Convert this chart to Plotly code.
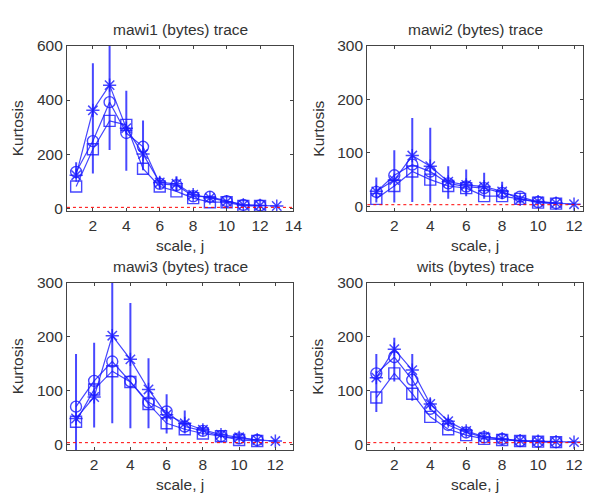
import plotly.graph_objects as go

# ---------------- data ----------------
titles = ["mawi1 (bytes) trace", "mawi2 (bytes) trace", "mawi3 (bytes) trace", "wits (bytes) trace"]

# mawi1
m1_x_star = [1, 2, 3, 4, 5, 6, 7, 8, 9, 10, 11, 12, 13]
m1_star = [122, 362, 455, 296, 200, 95, 90, 50, 38, 24, 12, 10, 8]
m1_star_hi = [170, 536, 700, 434, 324, 116, 118, 65, 48, 30, 16, 14, 11]
m1_star_lo = [110, 128, 215, 138, 140, 72, 62, 36, 28, 18, 8, 6, 5]
m1_x = [1, 2, 3, 4, 5, 6, 7, 8, 9, 10, 11, 12]
m1_circ = [134, 248, 392, 278, 227, 90, 85, 44, 42, 26, 12, 10]
m1_sq = [80, 218, 323, 308, 146, 80, 62, 37, 22, 22, 8, 8]

# mawi2
m2_x_star = [1, 2, 3, 4, 5, 6, 7, 8, 9, 10, 11, 12]
m2_star = [28, 49, 95, 75, 46, 40, 37, 28, 13, 9, 6, 4]
m2_star_hi = [54, 105, 165, 147, 75, 69, 63, 46, 20, 13, 9, 6]
m2_star_lo = [7, 7, 8, 7, 14, 19, 14, 13, 8, 5, 3, 2]
m2_x = [1, 2, 3, 4, 5, 6, 7, 8, 9, 10, 11]
m2_circ = [27, 58, 78, 65, 43, 37, 34, 25, 18, 8, 6]
m2_sq = [14, 38, 65, 50, 38, 34, 19, 19, 14, 7, 5]

# mawi3
m3_x_star = [1, 2, 3, 4, 5, 6, 7, 8, 9, 10, 11, 12]
m3_star = [48, 88, 202, 158, 102, 55, 39, 27, 18, 13, 8, 6]
m3_star_hi = [168, 189, 320, 263, 160, 93, 63, 35, 24, 17, 11, 8]
m3_star_lo = [-20, 31, 39, 30, 30, 20, 20, 18, 12, 9, 5, 4]
m3_x = [1, 2, 3, 4, 5, 6, 7, 8, 9, 10, 11]
m3_circ = [70, 118, 154, 117, 78, 61, 33, 25, 15, 11, 8]
m3_sq = [42, 102, 136, 116, 75, 39, 28, 20, 15, 8, 6]

# wits
w_x_star = [1, 2, 3, 4, 5, 6, 7, 8, 9, 10, 11, 12]
w_star = [124, 177, 138, 75, 43, 25, 14, 10, 7, 6, 5, 4]
w_star_hi = [168, 198, 168, 85, 50, 30, 18, 13, 9, 8, 6, 6]
w_star_lo = [60, 117, 81, 65, 35, 20, 10, 7, 5, 4, 3, 2]
w_x = [1, 2, 3, 4, 5, 6, 7, 8, 9, 10, 11]
w_circ = [132, 162, 120, 66, 36, 22, 13, 10, 6, 5, 4]
w_sq = [87, 132, 94, 51, 28, 17, 10, 8, 6, 5, 4]

gauss_kurtosis = 3

x_ticks_1 = [2, 4, 6, 8, 10, 12, 14]
x_ticks_2 = [2, 4, 6, 8, 10, 12]
y_ticks_1 = [0, 200, 400, 600]
y_ticks_2 = [0, 100, 200, 300]

panels = [
    dict(xs=m1_x_star, star=m1_star, hi=m1_star_hi, lo=m1_star_lo, x=m1_x, circ=m1_circ, sq=m1_sq,
         xr=[0.45, 14], yr=[-11, 600], xt=x_ticks_1, yt=y_ticks_1),
    dict(xs=m2_x_star, star=m2_star, hi=m2_star_hi, lo=m2_star_lo, x=m2_x, circ=m2_circ, sq=m2_sq,
         xr=[0.5, 12.5], yr=[-9, 300], xt=x_ticks_2, yt=y_ticks_2),
    dict(xs=m3_x_star, star=m3_star, hi=m3_star_hi, lo=m3_star_lo, x=m3_x, circ=m3_circ, sq=m3_sq,
         xr=[0.5, 13], yr=[-11, 300], xt=x_ticks_2, yt=y_ticks_2),
    dict(xs=w_x_star, star=w_star, hi=w_star_hi, lo=w_star_lo, x=w_x, circ=w_circ, sq=w_sq,
         xr=[0.5, 12.5], yr=[-11, 300], xt=x_ticks_2, yt=y_ticks_2),
]

# ---------------- layout geometry (pixels) ----------------
W, H = 593, 496
boxes = [(68, 298, 38, 208), (373, 592, 38, 208), (68, 298, 282, 454), (373, 592, 282, 454)]

BLUE = "rgba(25,25,255,0.8)"
BLUE_EB = "rgba(40,40,255,0.85)"
TXT = "#333333"
FONT = "Liberation Sans, Arial, sans-serif"
FS = 15.5

fig = go.Figure()
annotations = []
shapes = []

for i, (p, b) in enumerate(zip(panels, boxes)):
    n = i + 1
    xa = "x" if n == 1 else f"x{n}"
    ya = "y" if n == 1 else f"y{n}"
    plus = [h - s for h, s in zip(p["hi"], p["star"])]
    minus = [s - l for s, l in zip(p["star"], p["lo"])]
    fig.add_trace(go.Scatter(
        x=p["xs"], y=p["star"], mode="lines+markers", xaxis=xa, yaxis=ya,
        line=dict(color=BLUE, width=1.2),
        marker=dict(symbol="asterisk-open", size=11, color=BLUE, line=dict(color=BLUE, width=1.5)),
        error_y=dict(type="data", symmetric=False, array=plus, arrayminus=minus,
                     width=0, thickness=2, color=BLUE_EB),
        showlegend=False, cliponaxis=True))
    fig.add_trace(go.Scatter(
        x=p["x"], y=p["circ"], mode="lines+markers", xaxis=xa, yaxis=ya,
        line=dict(color=BLUE, width=1.2),
        marker=dict(symbol="circle-open", size=11, color=BLUE, line=dict(color=BLUE, width=1.4)),
        showlegend=False))
    fig.add_trace(go.Scatter(
        x=p["x"], y=p["sq"], mode="lines+markers", xaxis=xa, yaxis=ya,
        line=dict(color=BLUE, width=1.2),
        marker=dict(symbol="square-open", size=11, color=BLUE, line=dict(color=BLUE, width=1.4)),
        showlegend=False))

    x0, x1, y0, y1 = b
    dom_x = [x0 / W, x1 / W]
    dom_y = [1 - y1 / H, 1 - y0 / H]
    axcommon = dict(showgrid=False, zeroline=False, showline=True, linecolor="#444444", linewidth=1.2,
                    mirror="ticks", ticks="inside", ticklen=3, tickcolor="#444444",
                    tickfont=dict(family=FONT, size=FS, color=TXT))
    fig.layout[("xaxis" if n == 1 else f"xaxis{n}")] = dict(
        domain=dom_x, range=p["xr"], tickvals=p["xt"], anchor=ya, **axcommon)
    fig.layout[("yaxis" if n == 1 else f"yaxis{n}")] = dict(
        domain=dom_y, range=p["yr"], tickvals=p["yt"], anchor=xa, **axcommon)

    shapes.append(dict(type="line", xref=f"{xa} domain", yref=ya, x0=0, x1=1,
                       y0=gauss_kurtosis, y1=gauss_kurtosis,
                       line=dict(color="red", width=1, dash="dot")))

    cx = (x0 + x1) / 2 / W
    annotations.append(dict(text=titles[i], x=cx, y=1 - (y0 - 17) / H, xref="paper", yref="paper",
                            showarrow=False, xanchor="center", yanchor="middle",
                            font=dict(family=FONT, size=FS, color=TXT)))
    annotations.append(dict(text="scale, j", x=cx, y=1 - (y1 + 35) / H, xref="paper", yref="paper",
                            showarrow=False, xanchor="center", yanchor="middle",
                            font=dict(family=FONT, size=FS, color=TXT)))
    annotations.append(dict(text="Kurtosis", x=(x0 - 50) / W, y=1 - ((y0 + y1) / 2) / H,
                            xref="paper", yref="paper", textangle=-90,
                            showarrow=False, xanchor="center", yanchor="middle",
                            font=dict(family=FONT, size=FS, color=TXT)))

fig.update_layout(width=W, height=H, margin=dict(l=0, r=0, t=0, b=0),
                  paper_bgcolor="white", plot_bgcolor="white",
                  annotations=annotations, shapes=shapes)

fig.write_html(
    "out.html", config={"displayModeBar": False},
    post_script=("document.body.style.margin='0px';"
                 "var d=document.getElementById('{plot_id}');"
                 "d.style.position='absolute';d.style.top='0px';d.style.left='0px';"))
